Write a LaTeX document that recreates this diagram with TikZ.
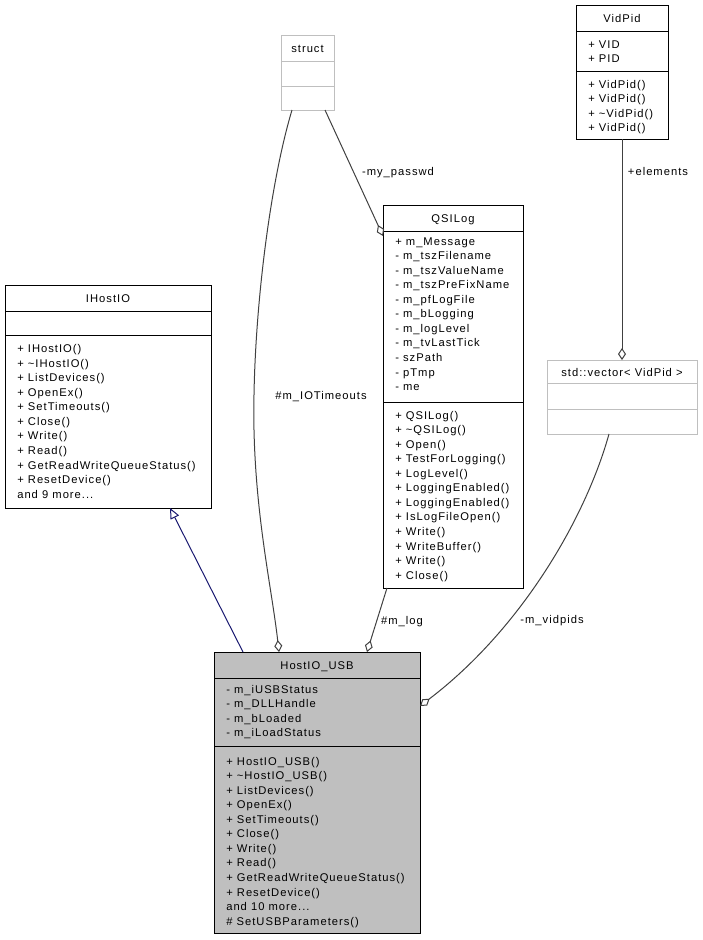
\documentclass[tikz,border=0pt]{standalone}
\usepackage{fontspec}
\setmainfont{Liberation Sans}[LetterSpace=9]
\usetikzlibrary{arrows.meta,calc,fit}
\definecolor{edgegray}{HTML}{404040}
\definecolor{boxgray}{HTML}{BFBFBF}
\definecolor{inhblue}{HTML}{191970}
\definecolor{fillgray}{HTML}{BFBFBF}
\newcommand\memberlines[4]{%
  \foreach \t [count=\i from 0] in {#4}
    \node[mem] (#1\i) at (#2, #3+\i*14.55) {\t};}
\begin{document}
\begin{tikzpicture}[x=0.75pt,y=-0.75pt,
  cls/.style={draw=black, line width=0.75pt, inner sep=0pt, outer sep=0pt},
  ucls/.style={cls, draw=boxgray},
  div/.style={draw=black, line width=0.75pt},
  udiv/.style={draw=boxgray, line width=0.75pt},
  txt/.style={inner sep=0pt, font=\fontsize{8.4}{10}\selectfont, text height=6pt, text depth=1.6pt, yshift=-0.9pt},
  mem/.style={txt, anchor=west},
  ttl/.style={txt, anchor=center},
  elabel/.style={txt, anchor=center},
  assoc/.style={draw=edgegray, line width=0.75pt, -{Diamond[open, length=9pt, width=6pt]}},
  inherit/.style={draw=inhblue, line width=0.75pt, -{Triangle[open, length=8pt, width=7pt]}}
]
\useasboundingbox (0,0) rectangle (703,940);

% ---------- struct ----------
\coordinate (s1) at (281,35); \coordinate (s2) at (334,110);
\node[ucls, fit=(s1)(s2)] (struct) {};
\draw[udiv] (281,61) -- (334,61);
\draw[udiv] (281,86) -- (334,86);
\node[ttl] (structT) at (307.5,48) {struct};

% ---------- VidPid ----------
\coordinate (v1) at (576,5); \coordinate (v2) at (668,139);
\node[cls, fit=(v1)(v2)] (vidpid) {};
\draw[div] (576,31) -- (668,31);
\draw[div] (576,71) -- (668,71);
\node[ttl] (vidpidT) at (622,18) {VidPid};
\memberlines{vpa}{588}{44}{+ VID, + PID}
\memberlines{vpm}{588}{84}{+ VidPid(), + VidPid(), + \textasciitilde VidPid(), + VidPid()}

% ---------- std::vector ----------
\coordinate (w1) at (547,360); \coordinate (w2) at (697,434);
\node[ucls, fit=(w1)(w2)] (vector) {};
\draw[udiv] (547,383) -- (697,383);
\draw[udiv] (547,409) -- (697,409);
\node[ttl] (vectorT) at (622,372) {std::vector< VidPid >};

% ---------- QSILog ----------
\coordinate (q1) at (383,205); \coordinate (q2) at (523,588);
\node[cls, fit=(q1)(q2)] (qsilog) {};
\draw[div] (383,231) -- (523,231);
\draw[div] (383,402) -- (523,402);
\node[ttl] (qsilogT) at (453,218) {QSILog};
\memberlines{qa}{395}{241}{+ m\_Message, - m\_tszFilename, - m\_tszValueName, - m\_tszPreFixName, - m\_pfLogFile, - m\_bLogging, - m\_logLevel, - m\_tvLastTick, - szPath, - pTmp, - me}
\memberlines{qm}{395}{415}{+ QSILog(), + \textasciitilde QSILog(), + Open(), + TestForLogging(), + LogLevel(), + LoggingEnabled(), + LoggingEnabled(), + IsLogFileOpen(), + Write(), + WriteBuffer(), + Write(), + Close()}

% ---------- IHostIO ----------
\coordinate (i1) at (5,285); \coordinate (i2) at (211,508);
\node[cls, fit=(i1)(i2)] (ihostio) {};
\draw[div] (5,311) -- (211,311);
\draw[div] (5,335) -- (211,335);
\node[ttl] (ihostioT) at (108,298) {IHostIO};
\memberlines{im}{17}{348.5}{+ IHostIO(), + \textasciitilde IHostIO(), + ListDevices(), + OpenEx(), + SetTimeouts(), + Close(), + Write(), + Read(), + GetReadWriteQueueStatus(), + ResetDevice(), and 9 more{.}{.}{.}}

% ---------- HostIO_USB ----------
\coordinate (h1) at (214,652); \coordinate (h2) at (420,933);
\node[cls, fill=fillgray, fit=(h1)(h2)] (hostio) {};
\draw[div] (214,678) -- (420,678);
\draw[div] (214,746) -- (420,746);
\node[ttl] (hostioT) at (317,665) {HostIO\_USB};
\memberlines{ha}{226}{689}{- m\_iUSBStatus, - m\_DLLHandle, - m\_bLoaded, - m\_iLoadStatus}
\memberlines{hm}{226}{761}{+ HostIO\_USB(), + \textasciitilde HostIO\_USB(), + ListDevices(), + OpenEx(), + SetTimeouts(), + Close(), + Write(), + Read(), + GetReadWriteQueueStatus(), + ResetDevice(), and 10 more{.}{.}{.}, \# SetUSBParameters()}

% ---------- connectors ----------
% inheritance
\draw[inherit] ($(hostio.north west)+(29,0)$) -- ($(ihostio.south west)+(165,0)$);
% struct -> HostIO_USB
\draw[assoc] ($(struct.south west)+(11,0)$) .. controls (268,190) and (252,330) .. (254,430)
   .. controls (256,520) and (272,590) .. ($(hostio.north west)+(65,0)$);
\node[elabel] (lblTimeouts) at (321,395) {\#m\_IOTimeouts};
% struct -> QSILog
\draw[assoc] ($(struct.south west)+(44,0)$) -- ($(qsilog.north west)+(0,31)$);
\node[elabel] (lblPasswd) at (398,171) {-my\_passwd};
% QSILog -> HostIO_USB
\draw[assoc] ($(qsilog.south west)+(4,0)$) -- ($(hostio.north west)+(153,0)$);
\node[elabel] (lblLog) at (402,620) {\#m\_log};
% VidPid -> vector
\draw[assoc] (vidpid.south) -- (vector.north);
\node[elabel] (lblElements) at (658,171) {+elements};
% vector -> HostIO_USB
\draw[assoc] ($(vector.south west)+(62,0)$) .. controls (585,520) and (520,630) .. ($(hostio.north east)+(0,54)$);
\node[elabel] (lblVidpids) at (552,619) {-m\_vidpids};
\end{tikzpicture}
\end{document}
